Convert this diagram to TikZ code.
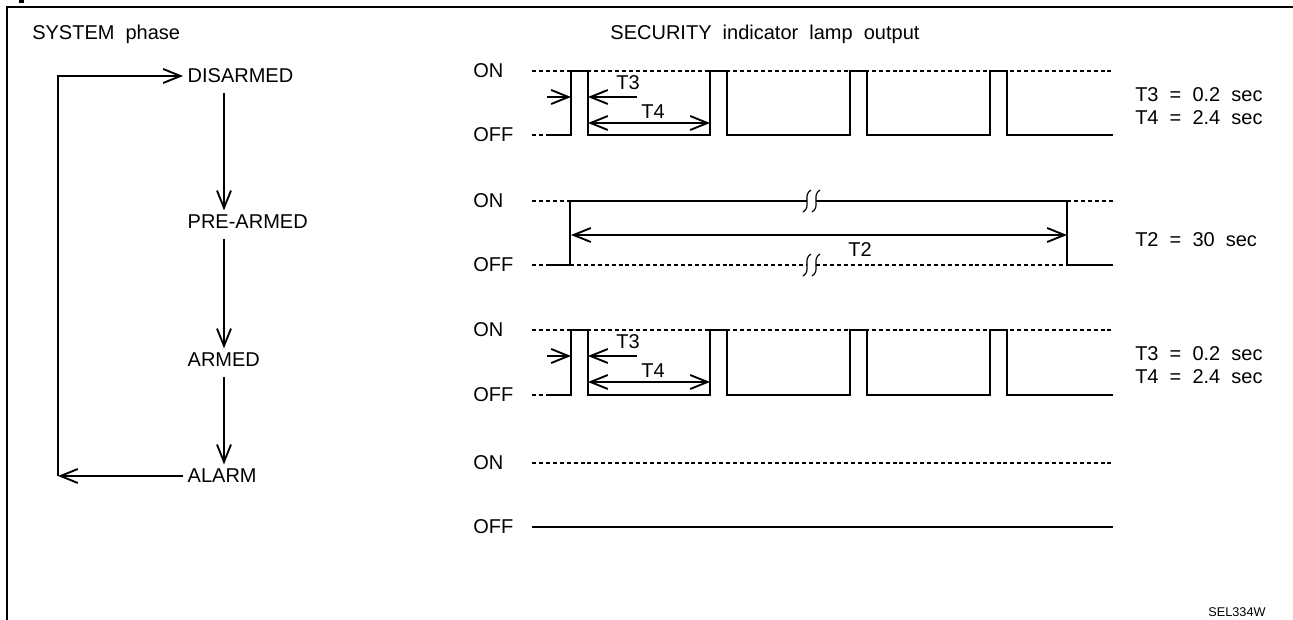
\documentclass[tikz,border=0pt]{standalone}
\usepackage{fontspec}
\setmainfont{Liberation Sans}[WordSpace=2.0]
\usetikzlibrary{arrows.meta, positioning}

\begin{document}
\begin{tikzpicture}[x=0.75pt, y=-0.75pt,
    >={Straight Barb[length=13pt, width=10.5pt, line width=1.4pt]},
    lbl/.style={font=\fontsize{15}{17}\selectfont},
    phase/.style={lbl, anchor=west},
    txt/.style={lbl, anchor=west, inner sep=0pt},
    flow/.style={line width=0.9pt, ->},
    sig/.style={line width=1pt},
    lvl/.style={line width=0.8pt, dash pattern=on 3pt off 2.2pt},
    dim/.style={line width=1pt}]
    \useasboundingbox (0,0) rectangle (1293,620);
    % frame
    \draw[line width=2.2pt] (7,620) -- (7,7) -- (1293,7);
    \fill (19,0) rectangle (24,3);
    \node[txt] (systitle) at (32,34) {SYSTEM phase};
    \node[lbl] (sectitle) at (765,34) {SECURITY indicator lamp output};

    % system phases
    \node[phase] (disarmed) at (183,76) {DISARMED};
    \node[phase] (prearmed) at (183,222) {PRE-ARMED};
    \node[phase] (armed) at (183,360) {ARMED};
    \node[phase] (alarm) at (183,476) {ALARM};
    \coordinate (spine) at (224,0);
    \coordinate (loop) at (58,476);
    \draw[flow, shorten <=4pt] (disarmed.south -| spine) -- (prearmed.north -| spine);
    \draw[flow, shorten <=4pt] (prearmed.south -| spine) -- (armed.north -| spine);
    \draw[flow, shorten <=4pt] (armed.south -| spine) -- (alarm.north -| spine);
    \draw[flow] (alarm.west) -- (loop);
    \draw[flow] (loop) |- (disarmed.west);

    % blinking rows (disarmed, armed)
    \foreach \on/\off/\row in {71/135/a, 330/395/c} {
        \node[txt] (on\row) at (473,\on) {ON};
        \node[txt] (off\row) at (473,\off) {OFF};
        \draw[lvl] (532,\on) -- (1113,\on);
        \draw[lvl] (532,\off) -- (547,\off);
        \draw[sig] (547,\off) -- (571,\off) -- (571,\on) -- (588,\on) -- (588,\off)
            -- (710,\off) -- (710,\on) -- (727,\on) -- (727,\off)
            -- (850,\off) -- (850,\on) -- (867,\on) -- (867,\off)
            -- (990,\off) -- (990,\on) -- (1007,\on) -- (1007,\off) -- (1113,\off);
        \draw[dim, ->] (547,\on+26) -- (571,\on+26);
        \draw[dim, <-] (588,\on+26) -- (637,\on+26);
        \node[lbl] at (628,\on+12) {T3};
        \draw[dim, <->] (588,\on+52) -- (710,\on+52);
        \node[lbl] at (653,\on+41) {T4};
        \node[txt] at (1135,\on+24) {T3 = 0.2 sec};
        \node[txt] at (1135,\on+47) {T4 = 2.4 sec};
    }

    % pre-armed row
    \node[txt] (onb) at (473,201) {ON};
    \node[txt] (offb) at (473,265) {OFF};
    \draw[lvl] (532,201) -- (570,201);
    \draw[lvl] (1067,201) -- (1113,201);
    \draw[lvl] (532,265) -- (546,265);
    \draw[sig] (546,265) -- (570,265) -- (570,201) -- (807,201);
    \draw[sig] (816,201) -- (1067,201) -- (1067,265) -- (1113,265);
    \draw[lvl] (570,265) -- (807,265);
    \draw[lvl] (816,265) -- (1067,265);
    \foreach \y in {201,265}
        \foreach \x in {807,816}
            \draw[line width=0.9pt] (\x+4,\y-11) .. controls (\x-5,\y-6) and (\x+5,\y+6) .. (\x-4,\y+11);
    \draw[dim, <->, line width=1.5pt] (571,235) -- (1067,235);
    \node[lbl] at (860,250) {T2};
    \node[txt] at (1135,240) {T2 = 30 sec};

    % alarm row
    \node[txt] (ond) at (473,463) {ON};
    \node[txt] (offd) at (473,527) {OFF};
    \draw[lvl] (532,463) -- (1113,463);
    \draw[sig] (532,527) -- (1113,527);

    \node[font=\fontsize{9.5}{11}\selectfont] (code) at (1237,612) {SEL334W};
\end{tikzpicture}
\end{document}
